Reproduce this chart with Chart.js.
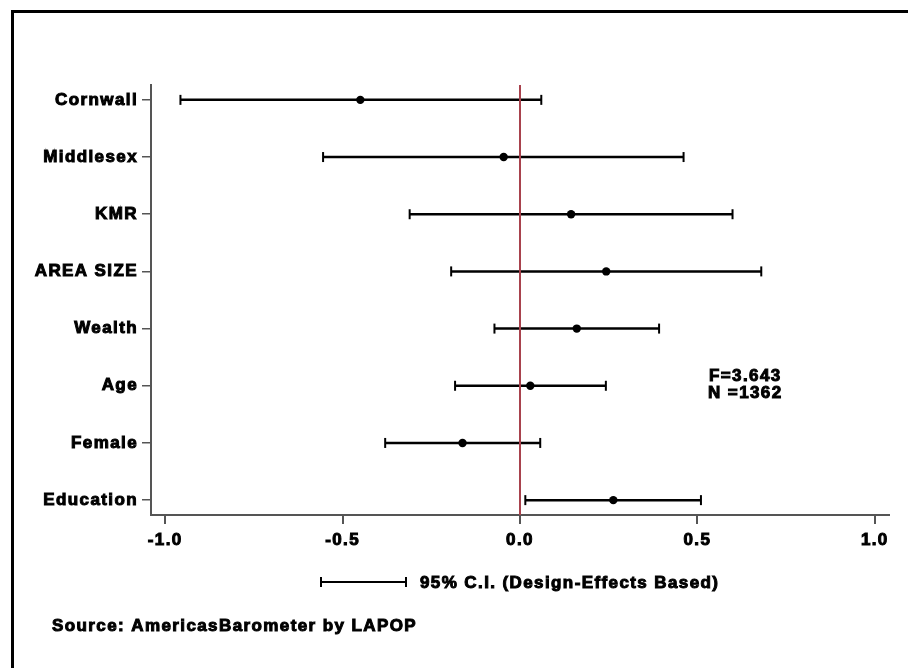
<!DOCTYPE html>
<html>
<head>
<meta charset="utf-8">
<script src="https://cdn.jsdelivr.net/npm/chart.js@4"></script>
<style>
  body { margin: 0; background: #fff; }
  #wrap { position: relative; width: 908px; height: 668px; }
  #frame { position: absolute; left: 11px; top: 10px; right: -10px; bottom: -10px;
           border-top: 3px solid #000; border-left: 3px solid #000; pointer-events: none; }
</style>
</head>
<body>
<div id="wrap">
  <canvas id="coef-graph" width="908" height="668"></canvas>
  <div id="frame"></div>
</div>
<script>
const ctx = document.getElementById('coef-graph').getContext('2d');

const categories = ['Cornwall', 'Middlesex', 'KMR', 'AREA SIZE', 'Wealth', 'Age', 'Female', 'Education'];
const coefs = [-0.450, -0.046, 0.144, 0.243, 0.160, 0.029, -0.162, 0.263];
const ciLow = [-0.957, -0.555, -0.311, -0.194, -0.072, -0.183, -0.380, 0.015];
const ciHigh = [0.060, 0.461, 0.599, 0.680, 0.392, 0.242, 0.057, 0.510];
const xTicks = [-1, -0.5, 0, 0.5, 1];

const fontFamily = '"Liberation Sans", Arial, sans-serif';

// one line per row for the confidence interval
const ciLines = categories.map((c, i) => ({
    data: [{x: ciLow[i], y: i}, {x: ciHigh[i], y: i}],
    showLine: true,
    borderColor: '#000',
    borderWidth: 2.5,
    pointRadius: 0,
    order: 3
}));

const caps = {
    data: ciLow.map((v, i) => ({x: v, y: i})).concat(ciHigh.map((v, i) => ({x: v, y: i}))),
    pointStyle: 'line',
    rotation: 90,
    pointRadius: 5,
    borderColor: '#000',
    borderWidth: 2,
    order: 2
};

const dots = {
    data: coefs.map((v, i) => ({x: v, y: i})),
    pointRadius: 4.2,
    backgroundColor: '#000',
    borderColor: '#000',
    borderWidth: 0,
    order: 1
};

const zeroLine = {
    data: [{x: 0, y: -0.26}, {x: 0, y: categories.length - 1 + 0.26}],
    showLine: true,
    borderColor: '#a8424d',
    borderWidth: 2,
    pointRadius: 0,
    order: 0
};

// wider, heavier lettering (the original uses a black-weight face)
const spacing = {
    id: 'spacing',
    beforeDraw(chart) {
        chart.ctx.letterSpacing = '1.4px';
    }
};

const annotations = {
    id: 'annotations',
    afterDraw(chart) {
        const c = chart.ctx;
        const x = chart.scales.x;
        const y = chart.scales.y;
        c.save();
        c.letterSpacing = '1.4px';
        c.fillStyle = '#000';
        c.strokeStyle = '#000';
        c.lineWidth = 1;
        c.font = 'bold 17px ' + fontFamily;
        c.textBaseline = 'middle';

        // F / N block
        c.textAlign = 'center';
        const fx = x.getPixelForValue(0.635);
        const fy = y.getPixelForValue(5);
        [['F=3.643', fy - 9], ['N =1362', fy + 8]].forEach(([t, ty]) => {
            c.fillText(t, fx, ty);
            c.strokeText(t, fx, ty);
        });

        // legend
        c.lineWidth = 2;
        c.beginPath();
        c.moveTo(321, 582); c.lineTo(406, 582);
        c.moveTo(321, 577); c.lineTo(321, 587);
        c.moveTo(406, 577); c.lineTo(406, 587);
        c.stroke();
        c.lineWidth = 1;
        c.textAlign = 'left';
        c.fillText('95% C.I. (Design-Effects Based)', 420, 583);
        c.strokeText('95% C.I. (Design-Effects Based)', 420, 583);

        // source
        c.fillText('Source: AmericasBarometer by LAPOP', 52, 626);
        c.strokeText('Source: AmericasBarometer by LAPOP', 52, 626);
        c.restore();
    }
};

const myChart = new Chart(ctx, {
    type: 'scatter',
    data: {
        datasets: [...ciLines, caps, dots, zeroLine]
    },
    options: {
        responsive: false,
        animation: false,
        layout: {
            padding: {top: 85, right: 19, bottom: 113, left: 0}
        },
        scales: {
            x: {
                type: 'linear',
                min: -1.04,
                max: 1.04,
                afterBuildTicks: scale => {
                    scale.ticks = xTicks.map(v => ({value: v}));
                },
                afterFit: scale => {
                    scale.height = 40;
                },
                border: {color: '#555', width: 2},
                grid: {
                    drawOnChartArea: false,
                    drawTicks: true,
                    tickLength: 9,
                    color: '#555',
                    lineWidth: 2
                },
                ticks: {
                    callback: v => v.toFixed(1),
                    color: '#000',
                    padding: 6,
                    maxRotation: 0,
                    font: {family: fontFamily, size: 17, weight: 'bold'},
                    textStrokeColor: '#000',
                    textStrokeWidth: 1
                }
            },
            y: {
                type: 'linear',
                reverse: true,
                min: -0.26,
                max: categories.length - 1 + 0.26,
                afterBuildTicks: scale => {
                    scale.ticks = categories.map((c, i) => ({value: i}));
                },
                afterFit: scale => {
                    scale.width = 151;
                },
                border: {color: '#555', width: 2},
                grid: {
                    drawOnChartArea: false,
                    drawTicks: true,
                    tickLength: 9,
                    color: '#555',
                    lineWidth: 1.5
                },
                ticks: {
                    callback: v => categories[v],
                    color: '#000',
                    padding: 4,
                    font: {family: fontFamily, size: 17, weight: 'bold'},
                    textStrokeColor: '#000',
                    textStrokeWidth: 1
                }
            }
        },
        plugins: {
            legend: {display: false},
            tooltip: {enabled: false}
        }
    },
    plugins: [spacing, annotations]
});
</script>
</body>
</html>
